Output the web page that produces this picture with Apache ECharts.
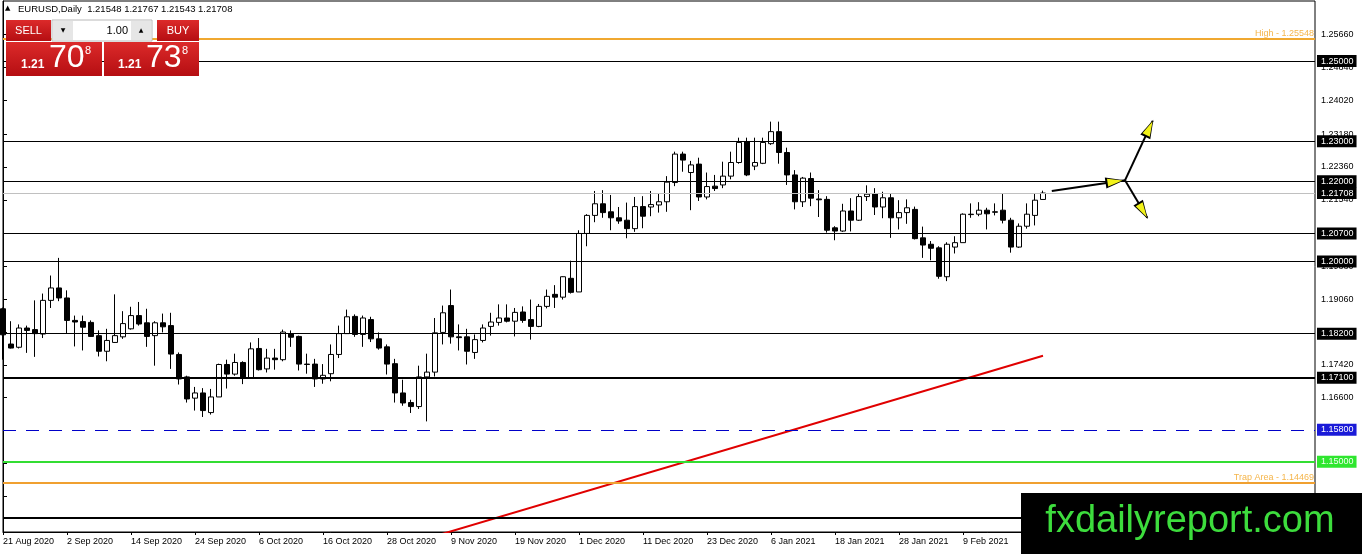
<!DOCTYPE html>
<html><head><meta charset="utf-8">
<script src="https://cdn.jsdelivr.net/npm/echarts@6/dist/echarts.min.js"></script>
<style>html,body{margin:0;padding:0;background:#fff}#c{width:1362px;height:554px}</style>
</head><body><div id="c"></div>
<script>
// ---- categories (trading days) ----
const dates = [
 '21 Aug 2020','24 Aug 2020','25 Aug 2020','26 Aug 2020','27 Aug 2020','28 Aug 2020','31 Aug 2020',
 '1 Sep 2020','2 Sep 2020','3 Sep 2020','4 Sep 2020','7 Sep 2020','8 Sep 2020','9 Sep 2020','10 Sep 2020','11 Sep 2020',
 '14 Sep 2020','15 Sep 2020','16 Sep 2020','17 Sep 2020','18 Sep 2020','21 Sep 2020','22 Sep 2020','23 Sep 2020',
 '24 Sep 2020','25 Sep 2020','28 Sep 2020','29 Sep 2020','30 Sep 2020',
 '1 Oct 2020','2 Oct 2020','5 Oct 2020','6 Oct 2020','7 Oct 2020','8 Oct 2020','9 Oct 2020','12 Oct 2020','13 Oct 2020',
 '14 Oct 2020','15 Oct 2020','16 Oct 2020','19 Oct 2020','20 Oct 2020','21 Oct 2020','22 Oct 2020','23 Oct 2020',
 '26 Oct 2020','27 Oct 2020','28 Oct 2020','29 Oct 2020','30 Oct 2020',
 '2 Nov 2020','3 Nov 2020','4 Nov 2020','5 Nov 2020','6 Nov 2020','9 Nov 2020','10 Nov 2020','11 Nov 2020','12 Nov 2020',
 '13 Nov 2020','16 Nov 2020','17 Nov 2020','18 Nov 2020','19 Nov 2020','20 Nov 2020','23 Nov 2020','24 Nov 2020',
 '25 Nov 2020','26 Nov 2020','27 Nov 2020','30 Nov 2020',
 '1 Dec 2020','2 Dec 2020','3 Dec 2020','4 Dec 2020','7 Dec 2020','8 Dec 2020','9 Dec 2020','10 Dec 2020','11 Dec 2020',
 '14 Dec 2020','15 Dec 2020','16 Dec 2020','17 Dec 2020','18 Dec 2020','21 Dec 2020','22 Dec 2020','23 Dec 2020',
 '24 Dec 2020','28 Dec 2020','29 Dec 2020','30 Dec 2020','31 Dec 2020',
 '4 Jan 2021','5 Jan 2021','6 Jan 2021','7 Jan 2021','8 Jan 2021','11 Jan 2021','12 Jan 2021','13 Jan 2021','14 Jan 2021',
 '15 Jan 2021','18 Jan 2021','19 Jan 2021','20 Jan 2021','21 Jan 2021','22 Jan 2021','25 Jan 2021','26 Jan 2021',
 '27 Jan 2021','28 Jan 2021','29 Jan 2021',
 '1 Feb 2021','2 Feb 2021','3 Feb 2021','4 Feb 2021','5 Feb 2021','8 Feb 2021','9 Feb 2021','10 Feb 2021','11 Feb 2021',
 '12 Feb 2021','15 Feb 2021','16 Feb 2021','17 Feb 2021','18 Feb 2021','19 Feb 2021','22 Feb 2021','23 Feb 2021'
];
const futureSlots = 34;

// ---- OHLC series ----
const opens = [
 1.1882,1.1794,1.1786,1.1834,1.1830,1.1819,1.1903,1.1934,1.1909,1.1853,1.1850,1.1848,1.1815,1.1776,1.1798,1.1812,
 1.1832,1.1865,1.1847,1.1815,1.1847,1.1840,1.1768,1.1712,1.1659,1.1672,1.1623,1.1662,1.1743,1.1719,1.1748,1.1709,
 1.1783,1.1732,1.1759,1.1755,1.1819,1.1813,1.1744,1.1744,1.1707,1.1720,1.1768,1.1820,1.1863,1.1818,1.1855,1.1807,
 1.1787,1.1745,1.1672,1.1648,1.1638,1.1712,1.1724,1.1823,1.1890,1.1812,1.1812,1.1773,1.1803,1.1838,1.1848,1.1859,
 1.1851,1.1874,1.1855,1.1838,1.1888,1.1918,1.1911,1.1958,1.1924,1.2070,1.2115,1.2144,1.2124,1.2109,1.2103,1.2082,
 1.2137,1.2136,1.2141,1.2149,1.2197,1.2268,1.2222,1.2243,1.2161,1.2188,1.2191,1.2213,1.2247,1.2299,1.2238,1.2245,
 1.2294,1.2324,1.2272,1.2216,1.2149,1.2207,1.2156,1.2155,1.2084,1.2076,1.2126,1.2103,1.2162,1.2169,1.2136,1.2159,
 1.2109,1.2122,1.2130,1.2059,1.2043,1.2034,1.1962,1.2036,1.2047,1.2118,1.2118,1.2128,1.2124,1.2128,1.2103,1.2036,
 1.2088,1.2115,1.21548
];
const closes = [
 1.1817,1.1784,1.1834,1.1828,1.1820,1.1903,1.1934,1.1909,1.1853,1.1849,1.1836,1.1813,1.1776,1.1803,1.1815,1.1845,
 1.1865,1.1844,1.1813,1.1847,1.1837,1.1769,1.1707,1.1657,1.1672,1.1628,1.1662,1.1743,1.1719,1.1748,1.1712,1.1782,
 1.1730,1.1759,1.1755,1.1824,1.1811,1.1744,1.1743,1.1707,1.1716,1.1768,1.1820,1.1862,1.1818,1.1859,1.1807,1.1784,
 1.1744,1.1672,1.1647,1.1638,1.1712,1.1724,1.1822,1.1872,1.1812,1.1810,1.1776,1.1805,1.1834,1.1849,1.1859,1.1851,
 1.1873,1.1853,1.1838,1.1888,1.1913,1.1911,1.1962,1.1923,1.2070,1.2115,1.2144,1.2122,1.2109,1.2101,1.2082,1.2137,
 1.2113,1.2142,1.2149,1.2198,1.2268,1.2253,1.2241,1.2161,1.2187,1.2182,1.2213,1.2247,1.2297,1.2216,1.2247,1.2297,
 1.2324,1.2272,1.2216,1.2149,1.2208,1.2158,1.2154,1.2078,1.2076,1.2126,1.2103,1.2162,1.2168,1.2136,1.2159,1.2109,
 1.2122,1.2134,1.2057,1.2041,1.2033,1.1963,1.2043,1.2047,1.2118,1.2117,1.2128,1.2119,1.2123,1.2103,1.2036,1.2088,
 1.2118,1.2153,1.21708
];
const lows = [
 1.1755,1.1783,1.1783,1.1772,1.1762,1.1809,1.1884,1.1901,1.1820,1.1788,1.1778,1.1812,1.1763,1.1751,1.1797,1.1807,
 1.1830,1.1840,1.1787,1.1740,1.1823,1.1732,1.1693,1.1648,1.1628,1.1612,1.1618,1.1662,1.1683,1.1715,1.1694,1.1707,
 1.1728,1.1723,1.1730,1.1751,1.1787,1.1728,1.1720,1.1687,1.1695,1.1701,1.1759,1.1820,1.1812,1.1787,1.1799,1.1780,
 1.1718,1.1648,1.1640,1.1622,1.1632,1.1601,1.1713,1.1793,1.1795,1.1778,1.1743,1.1757,1.1798,1.1815,1.1840,1.1848,
 1.1813,1.1847,1.1805,1.1836,1.1883,1.1884,1.1905,1.1920,1.1924,1.2038,1.2098,1.2109,1.2078,1.2094,1.2058,1.2074,
 1.2083,1.2113,1.2122,1.2124,1.2188,1.2224,1.2128,1.2151,1.2155,1.2176,1.2183,1.2205,1.2244,1.2213,1.2228,1.2243,
 1.2291,1.2244,1.2191,1.2130,1.2136,1.2138,1.2111,1.2072,1.2053,1.2074,1.2075,1.2101,1.2151,1.2116,1.2108,1.2059,
 1.2080,1.2094,1.2055,1.2009,1.2003,1.1957,1.1951,1.2020,1.2047,1.2109,1.2113,1.2080,1.2115,1.2095,1.2022,1.2034,
 1.2082,1.2090,1.21543
];
const highs = [
 1.1885,1.1851,1.1843,1.1840,1.1903,1.1920,1.1965,1.2009,1.1928,1.1865,1.1865,1.1853,1.1828,1.1832,1.1918,1.1876,
 1.1887,1.1899,1.1882,1.1851,1.1870,1.1872,1.1773,1.1715,1.1687,1.1684,1.1682,1.1745,1.1755,1.1770,1.1751,1.1798,
 1.1809,1.1782,1.1782,1.1830,1.1828,1.1815,1.1770,1.1757,1.1744,1.1793,1.1840,1.1880,1.1868,1.1865,1.1862,1.1823,
 1.1793,1.1757,1.1705,1.1655,1.1740,1.1770,1.1859,1.1890,1.1930,1.1843,1.1832,1.1818,1.1843,1.1872,1.1893,1.1893,
 1.1884,1.1888,1.1905,1.1894,1.1930,1.1941,1.1963,1.2002,1.2078,1.2118,1.2176,1.2178,1.2166,1.2136,1.2147,1.2161,
 1.2163,1.2176,1.2169,1.2213,1.2274,1.2274,1.2251,1.2259,1.2222,1.2216,1.2249,1.2274,1.2309,1.2309,1.2309,1.2309,
 1.2349,1.2349,1.2284,1.2228,1.2211,1.2222,1.2178,1.2163,1.2088,1.2144,1.2158,1.2171,1.2190,1.2183,1.2174,1.2169,
 1.2153,1.2155,1.2137,1.2087,1.2051,1.2038,1.2048,1.2063,1.2120,1.2145,1.2148,1.2134,1.2145,1.2170,1.2109,1.2095,
 1.2145,1.2170,1.21767
];

// ---- price axis tick labels ----
const yTickValues = [1.2566,1.2484,1.2402,1.2318,1.2236,1.2154,1.2070,1.1988,1.1906,1.1824,1.1742,1.1660,1.1578,1.1496,1.1414];

// ---- horizontal levels ----
const blackLevels = [1.25, 1.23, 1.22, 1.207, 1.20, 1.182];
const thickLevel = 1.171;
const currentPrice = 1.21708;
const blueLevel = 1.158;
const greenLevel = 1.15;
const highLevel = 1.25548;
const trapLevel = 1.14469;
const bottomLevel = 1.136;

// ---- trend line & arrows (x in bar index units) ----
const trendX = [52, 130];
const trendY = [1.1303, 1.1765];
const arrowStart = [131.1, 1.21758];
const arrowJoin = [140.25, 1.22025];
const arrowTipUp = [143.71, 1.23508];
const arrowTipDown = [143.04, 1.21093];
const headCenters = [[139.0, 1.21995], [143.29, 1.23325], [142.5, 1.21265]];

const header = 'EURUSD,Daily  1.21548 1.21767 1.21543 1.21708';

// ---------------------------------------------------------------
const FONT = 'Liberation Sans, Arial, sans-serif';
const totalSlots = dates.length + futureSlots;
const cats = dates.concat(Array.from({length: futureSlots}, (_, i) => 'f' + i));
const candleData = dates.map((d, i) => [opens[i], closes[i], lows[i], highs[i]]);

function boxLabel(bg, fg) {
  return {show: true, position: 'end', distance: 2, formatter: p => Number(p.value).toFixed(5),
    backgroundColor: bg, color: fg, fontSize: 9, fontFamily: FONT, padding: [1, 3, 0, 4], lineHeight: 11};
}
const markLines = [];
blackLevels.forEach(v => markLines.push({yAxis: v, lineStyle: {color: '#000', width: 1, type: 'solid'}, label: boxLabel('#000', '#fff')}));
markLines.push({yAxis: thickLevel, lineStyle: {color: '#000', width: 2, type: 'solid'}, label: boxLabel('#000', '#fff')});
markLines.push({yAxis: currentPrice, lineStyle: {color: '#c0c0c0', width: 1, type: 'solid'}, label: boxLabel('#000', '#fff')});
markLines.push({yAxis: blueLevel, lineStyle: {color: '#0000c8', width: 1, type: [13, 10]}, label: boxLabel('#1a1ad8', '#fff')});
markLines.push({yAxis: greenLevel, lineStyle: {color: '#33dd33', width: 2, type: 'solid'}, label: boxLabel('#2ee62e', '#f0fff0')});
markLines.push({yAxis: highLevel, lineStyle: {color: '#f0a830', width: 2, type: 'solid'},
  label: {show: true, position: 'insideEndTop', distance: 1, formatter: 'High - ' + highLevel.toFixed(5), color: '#f5b54a', fontSize: 9, fontFamily: FONT}});
markLines.push({yAxis: trapLevel, lineStyle: {color: '#f0a030', width: 2, type: 'solid'},
  label: {show: true, position: 'insideEndTop', distance: 1, formatter: 'Trap Area - ' + trapLevel.toFixed(5), color: '#f5b54a', fontSize: 9, fontFamily: FONT}});
markLines.push({yAxis: bottomLevel, lineStyle: {color: '#000', width: 2, type: 'solid'}, label: {show: false}});

const shaft = (a, b) => [{coord: a, lineStyle: {color: '#000', width: 2, type: 'solid'}}, {coord: b}];
const head = (a, b, color, size) => [{coord: a, symbol: 'none', lineStyle: {color: color, width: 0, type: 'solid'}, symbolSize: size}, {coord: b, symbol: 'triangle', symbolSize: size}];
const arrowLines = [
  shaft(arrowStart, arrowJoin), shaft(arrowJoin, arrowTipUp), shaft(arrowJoin, arrowTipDown),
  head(arrowStart, headCenters[0], '#000', [11, 19]), head(arrowJoin, headCenters[1], '#000', [11, 19]), head(arrowJoin, headCenters[2], '#000', [11, 19]),
  head(arrowStart, headCenters[0], '#f2f21a', [8, 15]), head(arrowJoin, headCenters[1], '#f2f21a', [8, 15]), head(arrowJoin, headCenters[2], '#f2f21a', [8, 15])
];

const red = {type: 'linear', x: 0, y: 0, x2: 0, y2: 1, colorStops: [{offset: 0, color: '#dc2a2a'}, {offset: 1, color: '#b50e12'}]};
const panel = [
  {type: 'text', left: 5, top: 5, z: 100, style: {text: '▲', fontSize: 7, fill: '#000', fontFamily: 'DejaVu Sans'}},
  {type: 'text', left: 18, top: 4, z: 100, style: {text: header, fontSize: 9.5, fill: '#000', fontFamily: FONT}},
  {type: 'rect', z: 100, shape: {x: 6, y: 20, width: 45, height: 21}, style: {fill: red}},
  {type: 'text', z: 101, x: 28.5, y: 31, style: {text: 'SELL', fill: '#fff', fontSize: 11, fontFamily: FONT, align: 'center', verticalAlign: 'middle'}},
  {type: 'rect', z: 100, shape: {x: 52, y: 20, width: 100, height: 21}, style: {fill: '#fff', stroke: '#b8b8b8', lineWidth: 1}},
  {type: 'rect', z: 101, shape: {x: 53, y: 21, width: 20, height: 19}, style: {fill: '#e6e6e6'}},
  {type: 'rect', z: 101, shape: {x: 131, y: 21, width: 20, height: 19}, style: {fill: '#e6e6e6'}},
  {type: 'text', z: 102, x: 63, y: 30.5, style: {text: '▼', fill: '#000', fontSize: 6, fontFamily: 'DejaVu Sans', align: 'center', verticalAlign: 'middle'}},
  {type: 'text', z: 102, x: 141, y: 30.5, style: {text: '▲', fill: '#000', fontSize: 6, fontFamily: 'DejaVu Sans', align: 'center', verticalAlign: 'middle'}},
  {type: 'text', z: 102, x: 128, y: 30.5, style: {text: '1.00', fill: '#000', fontSize: 11, fontFamily: FONT, align: 'right', verticalAlign: 'middle'}},
  {type: 'rect', z: 100, shape: {x: 157, y: 20, width: 42, height: 21}, style: {fill: red}},
  {type: 'text', z: 101, x: 178, y: 31, style: {text: 'BUY', fill: '#fff', fontSize: 11, fontFamily: FONT, align: 'center', verticalAlign: 'middle'}},
  {type: 'rect', z: 100, shape: {x: 6, y: 42, width: 96, height: 34}, style: {fill: red}},
  {type: 'rect', z: 100, shape: {x: 104, y: 42, width: 95, height: 34}, style: {fill: red}},
  {type: 'text', z: 101, x: 21, y: 65, style: {text: '1.21', fill: '#fff', fontSize: 12, fontWeight: 'bold', fontFamily: FONT, verticalAlign: 'middle'}},
  {type: 'text', z: 101, x: 49, y: 58, style: {text: '70', fill: '#fff', fontSize: 32, fontFamily: FONT, verticalAlign: 'middle'}},
  {type: 'text', z: 101, x: 85, y: 51, style: {text: '8', fill: '#fff', fontSize: 11, fontFamily: FONT, verticalAlign: 'middle'}},
  {type: 'text', z: 101, x: 118, y: 65, style: {text: '1.21', fill: '#fff', fontSize: 12, fontWeight: 'bold', fontFamily: FONT, verticalAlign: 'middle'}},
  {type: 'text', z: 101, x: 146, y: 58, style: {text: '73', fill: '#fff', fontSize: 32, fontFamily: FONT, verticalAlign: 'middle'}},
  {type: 'text', z: 101, x: 182, y: 51, style: {text: '8', fill: '#fff', fontSize: 11, fontFamily: FONT, verticalAlign: 'middle'}},
  {type: 'rect', z: 100, shape: {x: 1021, y: 493, width: 341, height: 61}, style: {fill: '#000'}},
  {type: 'text', z: 101, x: 1190, y: 522, style: {text: 'fxdailyreport.com', fill: '#3ddc3d', fontSize: 38, fontFamily: 'Liberation Sans, Arial, sans-serif', align: 'center', verticalAlign: 'middle'}}
];

const chart = echarts.init(document.getElementById('c'), null, {renderer: 'canvas'});
chart.setOption({
  animation: false,
  backgroundColor: '#fff',
  grid: {left: 3, right: 47, top: 1, bottom: 22, show: true, borderColor: '#000', borderWidth: 1, backgroundColor: '#fff'},
  xAxis: [{
    type: 'category', data: cats, boundaryGap: false,
    axisLine: {show: true, lineStyle: {color: '#000'}},
    axisTick: {show: true, length: 3, interval: (i) => i % 8 === 0 && i < dates.length, lineStyle: {color: '#000'}},
    axisLabel: {interval: (i) => i % 8 === 0 && i < dates.length, align: 'left', fontSize: 9, color: '#000', fontFamily: FONT, margin: 5},
    splitLine: {show: false}
  }, {
    type: 'value', min: 0, max: totalSlots - 1, show: false
  }],
  yAxis: {
    type: 'value', position: 'right', min: 1.1325, max: 1.265, scale: true,
    splitLine: {show: false},
    axisLine: {show: true, lineStyle: {color: '#000'}},
    axisTick: {show: true, length: 4, customValues: yTickValues, lineStyle: {color: '#000'}},
    axisLabel: {customValues: yTickValues, formatter: v => v.toFixed(5), fontSize: 9, color: '#000', fontFamily: FONT, margin: 6}
  },
  series: [{
    type: 'candlestick', xAxisIndex: 0, data: candleData, barWidth: 5,
    itemStyle: {color: '#fff', color0: '#000', borderColor: '#000', borderColor0: '#000', borderWidth: 1},
    markLine: {silent: true, symbol: 'none', animation: false, precision: 5, data: markLines}
  }, {
    type: 'line', xAxisIndex: 1, data: trendX.map((x, i) => [x, trendY[i]]), symbol: 'none',
    lineStyle: {color: '#e00000', width: 2}, clip: true, z: 3,
    markLine: {silent: true, symbol: 'none', animation: false, precision: 5, label: {show: false}, data: arrowLines}
  }],
  graphic: panel
});
</script></body></html>
